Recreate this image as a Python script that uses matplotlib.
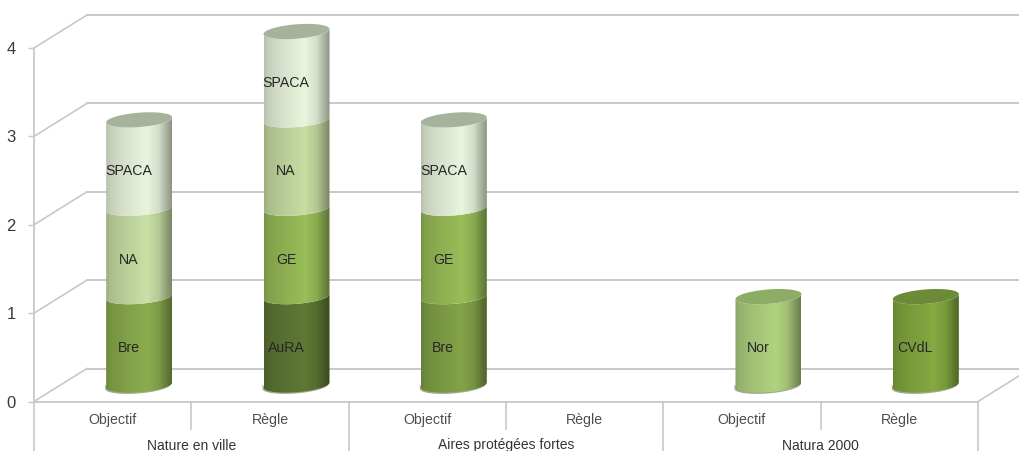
import numpy as np
import matplotlib
matplotlib.use('Agg')
import matplotlib.pyplot as plt
from matplotlib.path import Path
from matplotlib.patches import PathPatch

plt.rcParams['font.family'] = ['Liberation Sans', 'DejaVu Sans']

# data
groups = ['Nature en ville', 'Aires protégées fortes', 'Natura 2000']
categories = ['Objectif', 'Règle', 'Objectif', 'Règle', 'Objectif', 'Règle']
yticks = [0, 1, 2, 3, 4]
bar_labels = [['Bre', 'NA', 'SPACA'], ['AuRA', 'GE', 'NA', 'SPACA'],
              ['Bre', 'GE', 'SPACA'], [], ['Nor'], ['CVdL']]
bar_values = [[1, 1, 1], [1, 1, 1, 1], [1, 1, 1], [], [1], [1]]
# teintes, une par segment
bar_colors = [['#87a84c', '#c4d9a1', '#e3eed7'],
              ['#5c7533', '#94b856', '#c2d79e', '#e3eed7'],
              ['#7f9f46', '#94b856', '#e3eed7'],
              [],
              ['#abcd7c'],
              ['#80a53f']]
top_colors = ['#a5b39b', '#a5b39b', '#a5b39b', None, '#8dac66', '#6b8b36']

# geometrie en pixels de l'image
W, H = 1019, 451
left, right = 34, 978
y0_px, y4_px = 401.5, 48
px_x = (right - left) / len(categories)
px_y = (y0_px - y4_px) / 4
depth_x, depth_y = 53 / px_x, 33 / px_y   # profondeur du mur du fond
a, b, tilt = 33 / px_x, 7.2 / px_y, 2.5 / px_y

grid_col = '#c8c8c8'
text_col = '#4d4d4d'

fig = plt.figure(figsize=(W / 100, H / 100), dpi=100)
ax = fig.add_axes([left / W, (H - y0_px) / H, (right - left) / W, (y0_px - y4_px) / H])
ax.patch.set_alpha(0)


def ellipse_pts(cx, cy, t):
    # ellipse inclinee, montante vers la droite
    dx = np.cos(t)
    return cx + a * dx, cy + b * np.sin(t) + tilt * dx


def shade(color):
    # ombrage horizontal du cylindre
    rgb = np.array(matplotlib.colors.to_rgb(color))
    u = np.linspace(0, 1, 200)
    k = np.interp(u, [0, 0.06, 0.3, 0.62, 0.80, 0.92, 1],
                  [0.80, 0.87, 0.95, 1.03, 0.93, 0.74, 0.62])
    return np.clip(rgb[None, None, :] * k[None, :, None], 0, 1)


def draw_segment(cx, v0, v1, color, z):
    t = np.linspace(np.pi, 2 * np.pi, 60)
    xb, yb = ellipse_pts(cx, v0, t)
    xt, yt = ellipse_pts(cx, v1, t[::-1])
    verts = np.r_[np.c_[xb, yb], np.c_[xt, yt], [[xb[0], yb[0]]]]
    codes = [Path.MOVETO] + [Path.LINETO] * (len(verts) - 2) + [Path.CLOSEPOLY]
    clip = PathPatch(Path(verts, codes), transform=ax.transData, fc='none', ec='none')
    im = ax.imshow(shade(color), extent=[cx - a, cx + a, v0 - 0.2, v1 + 0.2],
                   aspect='auto', interpolation='bilinear', zorder=z)
    im.set_clip_box(fig.bbox)
    im.set_clip_path(clip)


# murs et grille
for v in yticks:
    ax.plot([0, depth_x], [v, v + depth_y], color=grid_col, lw=1.2, clip_on=False, zorder=1)
    ax.plot([depth_x, len(categories) + depth_x], [v + depth_y] * 2, color=grid_col, lw=1.4,
            clip_on=False, zorder=1)
ax.plot([len(categories), len(categories) + depth_x], [0, depth_y], color=grid_col, lw=1.2,
        clip_on=False, zorder=1)

# cylindres
for i, (vals, labs, cols) in enumerate(zip(bar_values, bar_labels, bar_colors)):
    if not vals:
        continue
    cx = i + 0.5 + depth_x / 2
    base = depth_y / 2
    # ombre au sol
    xs, ys = ellipse_pts(cx, base, np.linspace(np.pi, 2 * np.pi, 60))
    ax.fill_between(xs - 1.5 / px_x, ys - 0.8 / px_y, ys + 4 / px_y, color='#55653c', lw=0,
                    zorder=2, alpha=0.55)
    bottom = 0
    for j, (val, lab, col) in enumerate(zip(vals, labs, cols)):
        draw_segment(cx, bottom + base, bottom + val + base, col, 3 + j)
        ax.text(i + 0.5 + 16 / px_x, bottom + val / 2 + 9.3 / px_y, lab, ha='center', va='center',
                fontsize=10.2, color='#262626', zorder=20)
        bottom += val
    tt = np.linspace(0, 2 * np.pi, 80)
    xt, yt = ellipse_pts(cx, bottom + base, tt)
    ax.fill(xt, yt, color=top_colors[i], lw=0, zorder=10, clip_on=False)

# axe des categories a deux niveaux
n = len(categories)
for i, cat in enumerate(categories):
    ax.text(i + 0.5, -18.5 / px_y, cat, ha='center', va='center', fontsize=10.2,
            color=text_col, clip_on=False)
    long_line = i % 2 == 0
    ax.plot([i, i], [0, -50 / px_y if long_line else -27 / px_y], color=grid_col, lw=1.2,
            clip_on=False, zorder=1)
ax.plot([n, n], [0, -50 / px_y], color=grid_col, lw=1.2, clip_on=False, zorder=1)
for k, g in enumerate(groups):
    ax.text(2 * k + 1, -44 / px_y, g, ha='center', va='center', fontsize=10,
            color='#333333', clip_on=False)

ax.set_xlim(0, n)
ax.set_ylim(0, 4)
ax.set_xticks([])
ax.set_yticks(yticks)
ax.tick_params(axis='y', length=4, width=1, color=grid_col, labelcolor='#3a3a3a', labelsize=12, pad=9)
for s in ['top', 'right']:
    ax.spines[s].set_visible(False)
for s in ['left', 'bottom']:
    ax.spines[s].set_color(grid_col)
    ax.spines[s].set_linewidth(1.3)

fig.savefig('out.png', dpi=100, facecolor='white')
